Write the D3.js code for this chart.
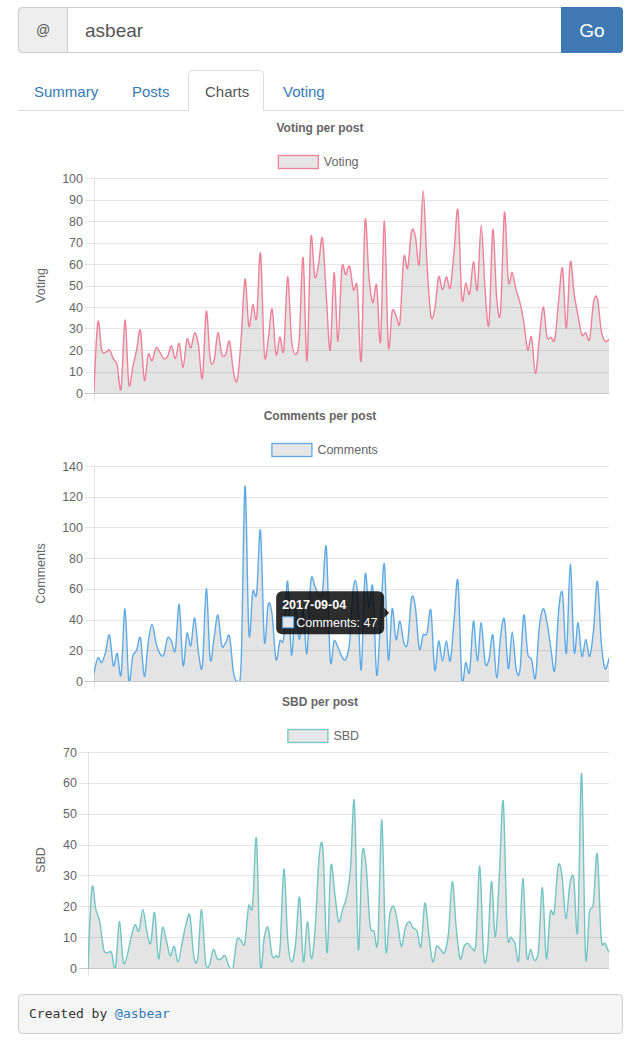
<!DOCTYPE html>
<html><head><meta charset="utf-8">
<script src="https://cdn.jsdelivr.net/npm/d3@7/dist/d3.min.js"></script>
<style>
html,body{margin:0;padding:0;background:#fff;}
svg{display:block;font-family:"Liberation Sans",Arial,Helvetica,sans-serif;}
</style></head>
<body>
<svg id="page" width="640" height="1041"></svg>
<script>
// ---- data ----
const tabs = ["Summary", "Posts", "Charts", "Voting"];
const activeTab = "Charts";
const user = "asbear";
const titles = ["Voting per post", "Comments per post", "SBD per post"];
const seriesNames = ["Voting", "Comments", "SBD"];
const voting = [1,33,20,19,20,16,13,2,34,4,12,20,29,6,18,15,21,19,16,17,22,16,23,12,25,21,28,22,7,38,16,15,28,18,18,24,10,6,25,53,31,41,35,65,18,25,39,18,26,20,54,25,18,25,63,15,72,54,60,72,
  45,20,56,24,58,55,59,48,49,15,80,54,42,50,24,80,22,38,36,33,63,58,75,73,60,94,60,36,39,54,48,54,49,66,85,44,51,46,61,48,78,48,32,76,44,38,84,52,56,48,42,33,20,26,9,25,40,26,26,25,43,58,30,61,46,36,27,28,25,42,44,29,24,25];
const comments = [5,15,12,19,30,10,18,4,47,0,16,20,28,3,25,37,25,18,17,28,26,20,50,10,31,23,41,18,10,60,14,28,43,23,25,29,6,0,12,127,31,58,57,98,26,50,43,14,26,28,65,17,47,27,46,18,65,62,56,58,87,
  14,26,22,16,14,25,61,59,7,69,48,61,4,40,76,14,47,27,39,25,25,54,48,21,30,31,46,7,26,13,26,13,40,65,1,12,6,39,13,38,12,14,30,2,29,40,8,32,8,7,43,18,14,2,35,47,38,21,7,46,57,18,76,19,38,16,27,16,33,65,25,8,15];
const sbd = [0,26,19,15,6,5,5,0,15,2,4,10,14,12,19,12,8,18,3,13,9,4,7,2,8,14,17,4,3,19,2,1,6,3,3,4,0.5,0,9,9,8,20,20,42,1,10,13,4,4,6,32,9,2,8,23,2,15,3,13,36,38,5,33,
  24,15,19,23,32,54,6,37,33,14,12,9,48,6,17,20,15,7,13,15,13,12,7,21,11,2,7,6,5,11,28,13,3,7,8,6.5,8,33,4,6,28,10,30,54,12,10,8,3,29,4,6,2.5,6,26,3,18,18,33,30,16,27,29,12,63,4,18,21,37,10,8,5];
const yMax = [100, 140, 70];
const yStep = [10, 20, 10];
const tooltipIndex = 77;
const tooltipDate = "2017-09-04";
const footerText = "Created by ";
const footerLink = "@asbear";

// ---- layout ----
const svg = d3.select("#page");
const linkColor = "#337ab7";

// input group
svg.append("rect").attr("x",18.5).attr("y",7.5).attr("width",604).attr("height",45).attr("rx",4)
  .attr("fill","#fff").attr("stroke","#ccc");
svg.append("path").attr("d","M22.5,7.5 H67.5 V52.5 H22.5 A4,4 0 0 1 18.5,48.5 V11.5 A4,4 0 0 1 22.5,7.5 Z")
  .attr("fill","#eee").attr("stroke","#ccc");
svg.append("text").attr("x",43).attr("y",35).attr("text-anchor","middle").attr("font-size",14).attr("fill","#555").text("@");
svg.append("text").attr("x",85).attr("y",37).attr("font-size",19).attr("fill","#555").text(user);
svg.append("path").attr("d","M561,7 H619 A4,4 0 0 1 623,11 V49 A4,4 0 0 1 619,53 H561 Z").attr("fill","#3f79b4");
svg.append("text").attr("x",592).attr("y",37).attr("text-anchor","middle").attr("font-size",19).attr("fill","#fff").text("Go");

// tabs
svg.append("line").attr("x1",18).attr("x2",623).attr("y1",110.5).attr("y2",110.5).attr("stroke","#ddd");
const tabX = [34, 132, 205, 283];
svg.append("path").attr("d","M188.5,111 V74.5 A4,4 0 0 1 192.5,70.5 H259.5 A4,4 0 0 1 263.5,74.5 V111")
  .attr("fill","#fff").attr("stroke","#ddd");
svg.append("rect").attr("x",189).attr("y",109).attr("width",74).attr("height",3).attr("fill","#fff");
tabs.forEach((t,i)=>{
  svg.append("text").attr("x",tabX[i]).attr("y",97).attr("font-size",15)
    .attr("fill", t===activeTab ? "#555" : linkColor).text(t);
});

// charts
const colors = ["#ef8097", "#5eaae6", "#73c4c4"];
const charts = [
  {top:178, bottom:393, left:94, titleY:132, legendY:155},
  {top:466, bottom:681, left:94, titleY:420, legendY:443},
  {top:752, bottom:968, left:88, titleY:706, legendY:729}
];
const right = 609;
const seriesList = [voting, comments, sbd];
const fillColor = "rgba(0,0,0,0.105)";
const textColor = "#666";

charts.forEach((c, k) => {
  const data = seriesList[k];
  const g = svg.append("g");
  const x = d3.scaleLinear().domain([0, data.length-1]).range([c.left, right]);
  const y = d3.scaleLinear().domain([0, yMax[k]]).range([c.bottom, c.top]);

  g.append("text").attr("x",320).attr("y",c.titleY).attr("text-anchor","middle")
    .attr("font-size",12).attr("font-weight","bold").attr("fill",textColor).text(titles[k]);

  // legend
  const lw = 40, tw = seriesNames[k].length * 6.4;
  const lx = 320 - (lw + 6 + tw)/2;
  g.append("rect").attr("x",lx+0.5).attr("y",c.legendY+0.5).attr("width",lw).attr("height",13)
    .attr("fill","#e6e6e6").attr("stroke",colors[k]).attr("stroke-width",1.3);
  g.append("text").attr("x",lx+lw+6).attr("y",c.legendY+11).attr("font-size",12.5).attr("fill",textColor).text(seriesNames[k]);

  // grid + y axis
  const ticks = d3.range(0, yMax[k]+0.001, yStep[k]);
  const yAxis = d3.axisLeft(y).tickValues(ticks).tickSize(0).tickPadding(11).tickFormat(d3.format("d"));
  const ga = g.append("g").attr("transform",`translate(${c.left},0)`).call(yAxis);
  ga.select(".domain").remove();
  ga.selectAll("text").attr("font-size",12.5).attr("fill",textColor).attr("font-family","Liberation Sans, Arial, sans-serif");
  ticks.forEach(t=>{
    g.append("line").attr("x1",c.left-9).attr("x2",right).attr("y1",Math.round(y(t))+0.5).attr("y2",Math.round(y(t))+0.5)
      .attr("stroke", t===0 ? "rgba(0,0,0,0.22)" : "rgba(0,0,0,0.1)");
  });
  g.append("line").attr("x1",c.left+0.5).attr("x2",c.left+0.5).attr("y1",c.top).attr("y2",c.bottom+8)
    .attr("stroke","rgba(0,0,0,0.1)");

  g.append("text").attr("transform",`translate(45,${(c.top+c.bottom)/2}) rotate(-90)`).attr("text-anchor","middle")
    .attr("font-size",12.5).attr("fill",textColor).text(seriesNames[k]);

  // clip
  const cid = "clip"+k;
  svg.append("clipPath").attr("id",cid).append("rect").attr("x",c.left).attr("y",c.top-5).attr("width",right-c.left).attr("height",c.bottom-c.top+5);
  const curve = d3.curveCardinal.tension(0);
  const area = d3.area().x((d,i)=>x(i)).y0(c.bottom).y1(d=>y(d)).curve(curve);
  const line = d3.line().x((d,i)=>x(i)).y(d=>y(d)).curve(curve);
  const pg = g.append("g").attr("clip-path",`url(#${cid})`);
  pg.append("path").datum(data).attr("d",area).attr("fill",fillColor);
  pg.append("path").datum(data).attr("d",line).attr("fill","none").attr("stroke",colors[k]).attr("stroke-width",1.4);

  if (k===1) {
    const px = x(tooltipIndex), py = y(data[tooltipIndex]);
    const bw = 108, bh = 43;
    const bx = px - 8 - bw, by = py - bh/2 + 4;
    const tg = g.append("g");
    tg.append("rect").attr("x",bx).attr("y",by).attr("width",bw).attr("height",bh).attr("rx",6).attr("fill","rgba(0,0,0,0.82)");
    tg.append("path").attr("d",`M${bx+bw},${by+bh/2-5} L${bx+bw+5},${by+bh/2} L${bx+bw},${by+bh/2+5} Z`).attr("fill","rgba(0,0,0,0.82)");
    tg.append("text").attr("x",bx+6).attr("y",by+18).attr("font-size",12.5).attr("font-weight","bold").attr("fill","#fff").text(tooltipDate);
    tg.append("rect").attr("x",bx+6.5).attr("y",by+25.5).attr("width",11).attr("height",11).attr("fill","#e6e6e6").attr("stroke",colors[1]);
    tg.append("text").attr("x",bx+20).attr("y",by+36).attr("font-size",12.5).attr("fill","#fff").text(`${seriesNames[1]}: ${data[tooltipIndex]}`);
  }
});

// footer
svg.append("rect").attr("x",18.5).attr("y",994.5).attr("width",604).attr("height",39).attr("rx",4).attr("fill","#f5f5f5").attr("stroke","#ccc");
const ft = svg.append("text").attr("x",29).attr("y",1018).attr("font-size",13).attr("font-family","DejaVu Sans Mono, monospace").attr("fill","#333");
ft.append("tspan").text(footerText);
ft.append("tspan").attr("fill",linkColor).text(footerLink);
</script>
</body></html>
